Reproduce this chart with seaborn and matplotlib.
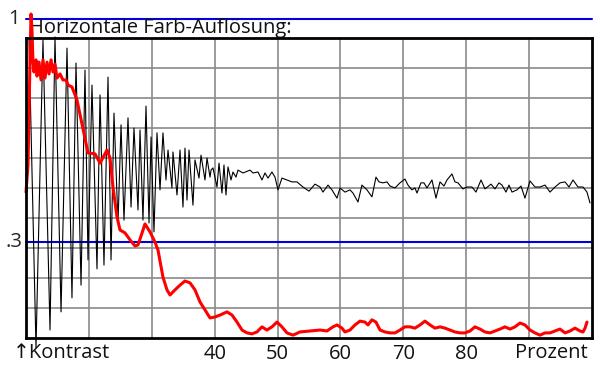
import matplotlib
matplotlib.use("Agg")
import matplotlib.pyplot as plt
import seaborn as sns
import pandas as pd

# ---- data (x in Prozent, y in Kontrast) ----
black_x = [10.48, 11.59, 12.70, 13.82, 14.61, 15.57, 16.52, 17.31, 17.95, 18.75,
           19.38, 19.86, 20.49, 21.29, 21.77, 22.40, 23.04, 23.52, 23.99, 24.63,
           25.11, 25.58, 26.22, 26.70, 27.17, 27.81, 28.13, 28.60, 29.08, 29.56,
           29.88, 30.35, 30.83, 31.31, 31.78, 32.26, 32.58, 33.21, 33.37, 34.01,
           34.49, 34.96, 35.28, 35.60, 35.92, 36.55, 36.87, 37.51, 37.83, 38.46,
           38.78, 39.26, 39.42, 39.73, 40.37, 40.69, 41.16, 41.48, 41.80, 42.12,
           42.60, 42.91, 43.39, 43.71, 44.50, 45.62, 46.09, 46.89, 47.52, 48.00,
           48.48, 49.11, 49.59, 50.07, 50.70, 51.50, 52.29, 53.09, 54.04, 55.00,
           55.95, 56.75, 57.22, 58.02, 58.65, 59.45, 59.93, 60.72, 61.52, 61.99,
           62.79, 63.42, 64.22, 65.01, 65.65, 66.13, 66.76, 67.40, 67.88, 68.67,
           69.47, 70.26, 70.74, 71.37, 71.85, 72.17, 72.80, 73.28, 73.76, 74.55,
           75.19, 75.83, 76.46, 76.94, 77.73, 78.21, 78.69, 79.48, 80.12, 80.91,
           81.55, 82.35, 82.98, 83.94, 84.57, 85.21, 85.69, 86.32, 86.80, 87.28,
           88.07, 88.71, 89.34, 90.14, 90.93, 91.73, 92.53, 93.32, 94.12, 94.91,
           95.71, 96.34, 96.98, 97.77, 98.57, 99.20, 99.68]
black_y = [0.935, -0.031, 0.935, 0.025, 0.945, 0.082, 0.910, 0.126, 0.863, 0.166,
           0.841, 0.245, 0.794, 0.217, 0.763, 0.229, 0.819, 0.245, 0.706, 0.361,
           0.669, 0.370, 0.691, 0.411, 0.659, 0.402, 0.653, 0.370, 0.728, 0.361,
           0.631, 0.333, 0.644, 0.465, 0.644, 0.496, 0.590, 0.471, 0.584, 0.449,
           0.590, 0.411, 0.596, 0.433, 0.590, 0.417, 0.559, 0.502, 0.574, 0.496,
           0.565, 0.505, 0.527, 0.534, 0.474, 0.549, 0.455, 0.543, 0.449, 0.537,
           0.496, 0.521, 0.505, 0.527, 0.518, 0.527, 0.518, 0.521, 0.496, 0.518,
           0.502, 0.521, 0.505, 0.465, 0.502, 0.496, 0.490, 0.490, 0.474, 0.461,
           0.483, 0.474, 0.458, 0.480, 0.465, 0.439, 0.471, 0.458, 0.465, 0.455,
           0.427, 0.480, 0.465, 0.443, 0.505, 0.490, 0.487, 0.490, 0.477, 0.471,
           0.487, 0.499, 0.480, 0.465, 0.471, 0.455, 0.487, 0.487, 0.471, 0.496,
           0.439, 0.490, 0.477, 0.496, 0.515, 0.490, 0.487, 0.468, 0.474, 0.474,
           0.458, 0.496, 0.468, 0.483, 0.468, 0.487, 0.480, 0.458, 0.480, 0.458,
           0.465, 0.477, 0.439, 0.493, 0.474, 0.474, 0.480, 0.458, 0.474, 0.487,
           0.490, 0.474, 0.496, 0.474, 0.474, 0.458, 0.424]

red_x = [10.00, 10.32, 10.64, 10.80, 10.95, 11.11, 11.27, 11.59, 11.75, 12.07,
         12.39, 12.70, 13.02, 13.34, 13.66, 13.98, 14.29, 14.61, 14.93, 15.41,
         15.88, 16.36, 16.68, 17.31, 18.11, 19.86, 20.97, 21.77, 22.88, 23.36,
         23.83, 24.47, 24.95, 25.74, 26.54, 27.33, 27.81, 28.29, 28.92, 29.72,
         30.51, 30.99, 31.78, 32.42, 32.90, 33.69, 34.49, 35.28, 36.08, 36.87,
         37.67, 38.46, 39.26, 40.05, 40.85, 41.96, 42.76, 43.55, 44.35, 45.14,
         45.94, 46.73, 47.52, 48.32, 49.11, 49.91, 50.70, 51.50, 52.45, 53.25,
         53.57, 55.16, 56.75, 57.86, 58.81, 59.45, 60.24, 60.72, 61.52, 62.31,
         63.11, 63.90, 64.38, 65.01, 65.65, 66.29, 67.08, 67.88, 68.67, 69.47,
         70.26, 71.06, 71.85, 72.65, 73.44, 74.24, 75.03, 75.83, 76.62, 77.42,
         78.21, 79.01, 79.80, 80.60, 81.39, 82.19, 82.98, 83.78, 84.57, 85.37,
         86.16, 86.96, 87.76, 88.55, 89.34, 90.14, 90.93, 91.73, 92.53, 93.32,
         94.12, 94.91, 95.71, 96.50, 97.30, 98.09, 98.57, 98.89, 99.20]
red_y = [0.458, 0.543, 0.873, 1.017, 0.967, 0.866, 0.835, 0.873, 0.822, 0.866,
         0.810, 0.873, 0.816, 0.866, 0.829, 0.873, 0.835, 0.860, 0.816, 0.829,
         0.810, 0.810, 0.794, 0.788, 0.747, 0.581, 0.578, 0.549, 0.590, 0.565,
         0.474, 0.380, 0.339, 0.330, 0.308, 0.289, 0.292, 0.320, 0.358, 0.333,
         0.301, 0.276, 0.191, 0.151, 0.135, 0.151, 0.166, 0.179, 0.173, 0.151,
         0.113, 0.088, 0.063, 0.066, 0.072, 0.082, 0.072, 0.050, 0.025, 0.016,
         0.013, 0.019, 0.035, 0.025, 0.035, 0.050, 0.035, 0.016, 0.009, 0.016,
         0.019, 0.022, 0.025, 0.022, 0.035, 0.041, 0.031, 0.019, 0.025, 0.041,
         0.053, 0.050, 0.041, 0.057, 0.050, 0.025, 0.019, 0.016, 0.016, 0.025,
         0.035, 0.035, 0.031, 0.041, 0.053, 0.041, 0.031, 0.035, 0.031, 0.025,
         0.019, 0.016, 0.016, 0.022, 0.035, 0.028, 0.019, 0.016, 0.022, 0.028,
         0.035, 0.028, 0.035, 0.047, 0.041, 0.025, 0.016, 0.009, 0.016, 0.016,
         0.022, 0.028, 0.016, 0.022, 0.031, 0.022, 0.019, 0.031, 0.050]

ref_levels = [1.0, 0.3]
ref_labels = ["1", ".3"]
x_ticks = [20, 30, 40, 50, 60, 70, 80, 90]
x_ticklabels = ["", "", "40", "50", "60", "70", "80", ""]
title = "Horizontale Farb-Auflösung:"

# ---- style ----
sns.set_style("white")
plt.rcParams["font.family"] = ["Open Sans", "DejaVu Sans"]
FS = 14.5

fig = plt.figure(figsize=(6.0, 3.73), dpi=100)
ax = fig.add_axes([26 / 600, 35 / 373, 566 / 600, 300 / 373])

x_min, x_max = 10, 100
y_top = 0.9417
ax.set_xlim(x_min, x_max)
ax.set_ylim(0, y_top)

# grid
y_grid = [y_top * i / 10 for i in range(1, 10)]
ax.set_xticks(x_ticks)
ax.set_xticklabels(x_ticklabels)
ax.set_yticks(y_grid)
ax.set_yticklabels([])
ax.grid(True, color="#8a8a8a", linewidth=1.2)
ax.tick_params(axis="both", length=0, labelsize=FS, pad=4, colors="#111111")
for s in ax.spines.values():
    s.set_color("black")
    s.set_linewidth(2.0)
    s.set_zorder(5)

# reference lines
for lv, lb, xr in zip(ref_levels, ref_labels, [8.95, 9.5]):
    ax.plot([x_min, x_max], [lv, lv], color="#0000dd", linewidth=1.5,
            clip_on=False, zorder=3)
    ax.text(xr, lv, lb, ha="right", va="center", fontsize=FS, clip_on=False)

df_black = pd.DataFrame({"x": black_x, "y": black_y})
df_red = pd.DataFrame({"x": red_x, "y": red_y})
sns.lineplot(data=df_black, x="x", y="y", ax=ax, color="black", linewidth=0.8,
             estimator=None, clip_on=False, zorder=4)
sns.lineplot(data=df_red, x="x", y="y", ax=ax, color="#ff0000", linewidth=2.2,
             estimator=None, clip_on=False, zorder=4)
ax.set_xlabel("")
ax.set_ylabel("")

ax.text(10.45, 0.957, title, ha="left", va="baseline", fontsize=FS,
        color="#111111", clip_on=False)
ax.text(7.9, -0.048, "↑Kontrast", ha="left", va="center", fontsize=FS,
        color="#111111", clip_on=False, family=["Open Sans", "DejaVu Sans"])
ax.text(99.4, -0.048, "Prozent", ha="right", va="center", fontsize=FS,
        color="#111111", clip_on=False)

fig.savefig("out.png", dpi=100, facecolor="white")
